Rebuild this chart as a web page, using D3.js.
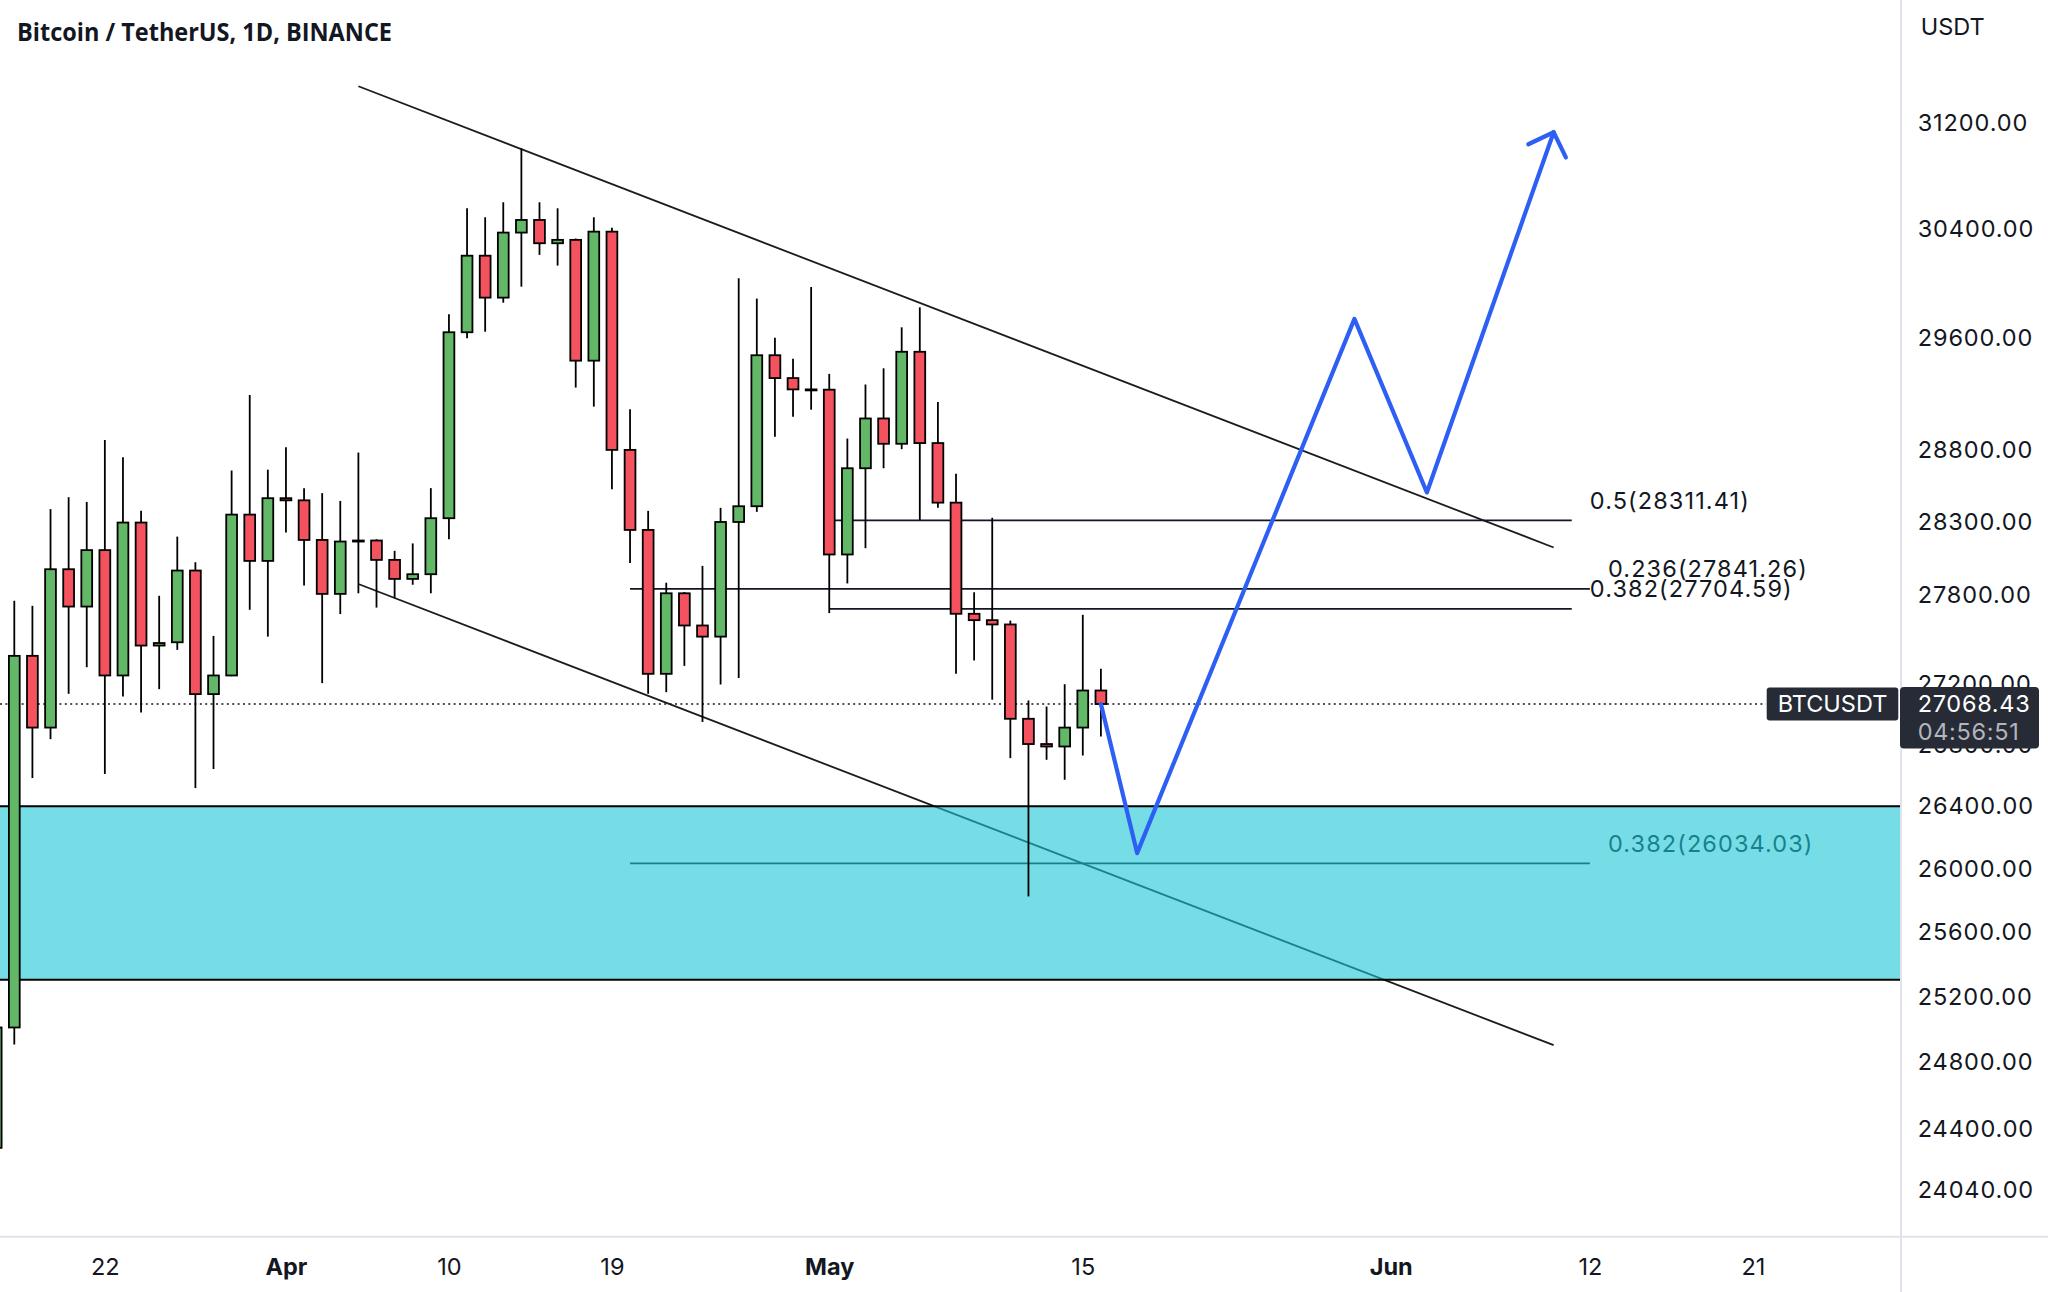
<!DOCTYPE html>
<html><head><meta charset="utf-8">
<script src="https://cdn.jsdelivr.net/npm/d3@7"></script>
<style>html,body{margin:0;padding:0;background:#fff;} svg{display:block;}</style>
</head><body><svg id="c" width="2048" height="1292"></svg>
<script>
// ---------------- DATA ----------------
const dates = ["2023-03-16","2023-03-17","2023-03-18","2023-03-19","2023-03-20","2023-03-21","2023-03-22","2023-03-23","2023-03-24","2023-03-25","2023-03-26","2023-03-27","2023-03-28","2023-03-29","2023-03-30","2023-03-31","2023-04-01","2023-04-02","2023-04-03","2023-04-04","2023-04-05","2023-04-06","2023-04-07","2023-04-08","2023-04-09","2023-04-10","2023-04-11","2023-04-12","2023-04-13","2023-04-14","2023-04-15","2023-04-16","2023-04-17","2023-04-18","2023-04-19","2023-04-20","2023-04-21","2023-04-22","2023-04-23","2023-04-24","2023-04-25","2023-04-26","2023-04-27","2023-04-28","2023-04-29","2023-04-30","2023-05-01","2023-05-02","2023-05-03","2023-05-04","2023-05-05","2023-05-06","2023-05-07","2023-05-08","2023-05-09","2023-05-10","2023-05-11","2023-05-12","2023-05-13","2023-05-14","2023-05-15","2023-05-16"];
const opens  = [24286,25011,27389,26913,27975,27721,28106,27258,28296,27458,27480,27966,27134,27258,28351,28032,28465,28450,28176,27807,28165,28172,28039,27909,27941,28326,29643,30203,29895,30374,30468,30295,30320,29438,30381,28803,28245,27269,27811,27593,27518,28300,28409,29477,29313,29232,29230,28076,28674,29025,28846,29502,28851,28434,27672,27629,27600,26971,26805,26789,26913,27158];
const highs  = [25200,27760,27726,28389,28472,28439,28873,28751,28377,27794,28199,28023,27523,28658,29192,28664,28822,28535,28500,28446,28784,28181,28101,28152,28535,29774,30555,30488,30600,31006,30600,30555,30330,30488,30410,29091,28377,27883,27820,27998,28398,30037,29888,29603,29451,29973,29343,28883,29267,29383,29679,29824,29142,28635,27818,28329,27626,27092,27052,27200,27665,27302];
const lows   = [24120,24907,26583,26837,27136,27313,26609,27118,27012,27167,27429,26518,26642,27253,27699,27518,28227,27864,27207,27670,27811,27714,27778,27869,27811,28181,29600,29647,29858,29975,30209,30130,29245,29109,28528,28017,27136,27147,27322,26950,27198,27241,28370,28896,29038,29087,27677,27878,28119,28674,28808,28312,28398,27269,27358,27097,26713,25825,26702,26572,26730,26855];
const closes = [25011,27389,26913,27975,27721,28106,27258,28296,27458,27475,27966,27134,27258,28351,28032,28465,28450,28176,27807,28165,28172,28039,27909,27941,28326,29643,30203,29895,30374,30468,30295,30320,29438,30381,28803,28245,27269,27811,27593,27518,28300,28409,29477,29313,29232,29230,28076,28674,29025,28846,29502,28851,28434,27672,27629,27600,26971,26805,26789,26913,27158,27068.43];

const priceTicks = [31200,30400,29600,28800,28300,27800,27200,26800,26400,26000,25600,25200,24800,24400,24040];
const timeTickDates  = ["2023-03-22","2023-04-01","2023-04-10","2023-04-19","2023-05-01","2023-05-15","2023-06-01","2023-06-12","2023-06-21"];
const timeTickLabels = ["22","Apr","10","19","May","15","Jun","12","21"];
const timeTickBold   = [false,true,false,false,true,false,true,false,false];

const title = "Bitcoin / TetherUS, 1D, BINANCE";
const currency = "USDT";
const symbol = "BTCUSDT";
const lastPrice = 27068.43;
const countdown = "04:56:51";

// trend channel
const upperTrendDates = ["2023-04-05","2023-06-10"];
const upperTrendPrices = [31480,28124];
const lowerTrendDates = ["2023-04-05","2023-06-10"];
const lowerTrendPrices = [27874,24903];

// fibonacci levels
const fibStartDates = ["2023-04-20","2023-04-20","2023-05-01","2023-05-01"];
const fibEndDates   = ["2023-06-12","2023-06-12","2023-06-11","2023-06-11"];
const fibPrices     = [27841.26,26034.03,28311.41,27704.59];
const fibLabels     = ["0.236(27841.26)","0.382(26034.03)","0.5(28311.41)","0.382(27704.59)"];

// demand zone
const zonePrices = [26400,25305];
const zoneDates = ["2023-03-01","2023-07-30"];

// forecast path
const forecastDates  = ["2023-05-16","2023-05-18","2023-05-30","2023-06-03","2023-06-10"];
const forecastPrices = [27068.43,26100,29740,28505,31128];

// ---------------- CHART ----------------
const W = 2048, H = 1292;
const plotRight = 1901, plotBottom = 1236.7;
const green = "#62b866", red = "#f4525f", ink = "#131722";
const font = "Inter, 'Liberation Sans', Arial, sans-serif";
const fs = 23.5;

const parse = s => new Date(s);
const x = d3.scaleUtc().domain([parse("2023-03-17"), parse("2023-06-21")]).range([14.3, 14.3 + 96*18.11]);
const y = d3.scaleLog().domain([24040, 31200]).range([1189.5, 122.8]);

const svg = d3.select("#c");
svg.append("rect").attr("width",W).attr("height",H).attr("fill","#fff");

svg.append("defs").append("clipPath").attr("id","plotclip")
  .append("rect").attr("x",0).attr("y",0).attr("width",plotRight).attr("height",plotBottom);

const plot = svg.append("g").attr("clip-path","url(#plotclip)");

// trend lines
[[upperTrendDates,upperTrendPrices],[lowerTrendDates,lowerTrendPrices]].forEach(([ds,ps])=>{
  plot.append("line")
    .attr("x1",x(parse(ds[0]))).attr("y1",y(ps[0]))
    .attr("x2",x(parse(ds[1]))).attr("y2",y(ps[1]))
    .attr("stroke","#1c1c1c").attr("stroke-width",1.8);
});

// fib lines + labels
fibPrices.forEach((p,i)=>{
  const x1 = x(parse(fibStartDates[i])), x2 = x(parse(fibEndDates[i]));
  plot.append("line").attr("x1",x1).attr("x2",x2).attr("y1",y(p)).attr("y2",y(p))
    .attr("stroke",ink).attr("stroke-width",1.8);
  const lx = x(d3.utcDay.offset(parse(fibEndDates[i]),1));
  plot.append("text").attr("x",lx).attr("y",y(p)-20).attr("dy","0.36em")
    .attr("font-family",font).attr("font-size",fs).attr("letter-spacing",1.1)
    .attr("fill",ink).text(fibLabels[i]);
});

// demand zone
const zx1 = x(parse(zoneDates[0])), zx2 = x(parse(zoneDates[1]));
plot.append("rect").attr("x",zx1).attr("width",zx2-zx1)
  .attr("y",y(zonePrices[0])).attr("height",y(zonePrices[1])-y(zonePrices[0]))
  .attr("fill","rgb(27,198,213)").attr("fill-opacity",0.6);
zonePrices.forEach(p=>{
  plot.append("line").attr("x1",zx1).attr("x2",zx2).attr("y1",y(p)).attr("y2",y(p))
    .attr("stroke","#000").attr("stroke-width",2);
});

// last price dotted line
plot.append("line").attr("x1",0).attr("x2",1766).attr("y1",y(lastPrice)).attr("y2",y(lastPrice))
  .attr("stroke",ink).attr("stroke-width",1.6).attr("stroke-dasharray","2,3.4");

// candles
const candles = dates.map((d,i)=>({t:parse(d),o:opens[i],h:highs[i],l:lows[i],c:closes[i]}));
const bw = 10.8;
const cg = plot.append("g").selectAll("g").data(candles).join("g");
cg.append("line")
  .attr("x1",d=>x(d.t)).attr("x2",d=>x(d.t))
  .attr("y1",d=>y(d.h)).attr("y2",d=>y(d.l))
  .attr("stroke","#000").attr("stroke-width",1.8);
cg.append("rect")
  .attr("x",d=>x(d.t)-bw/2).attr("width",bw)
  .attr("y",d=>Math.min(y(d.o),y(d.c)))
  .attr("height",d=>Math.max(1,Math.abs(y(d.o)-y(d.c))))
  .attr("fill",d=>d.c>=d.o?green:red)
  .attr("stroke","#000").attr("stroke-width",1.8);

// forecast path with arrow
const fpts = forecastDates.map((d,i)=>[x(parse(d)), y(forecastPrices[i])]);
plot.append("path").attr("d",d3.line()(fpts))
  .attr("fill","none").attr("stroke","#2d5ff5").attr("stroke-width",4.2)
  .attr("stroke-linejoin","round").attr("stroke-linecap","round");
{
  const [ax,ay] = fpts[fpts.length-1], [bx,by] = fpts[fpts.length-2];
  const ang = Math.atan2(by-ay, bx-ax);
  const L = 28;
  const wing = a => [ax + L*Math.cos(ang+a), ay + L*Math.sin(ang+a)];
  plot.append("path").attr("d",d3.line()([wing(0.79),[ax,ay],wing(-0.79)]))
    .attr("fill","none").attr("stroke","#2d5ff5").attr("stroke-width",4.2)
    .attr("stroke-linejoin","round").attr("stroke-linecap","round");
}

// axes frame lines
svg.append("line").attr("x1",0).attr("x2",W).attr("y1",plotBottom).attr("y2",plotBottom)
  .attr("stroke","#e0e3eb").attr("stroke-width",2);
svg.append("line").attr("x1",plotRight).attr("x2",plotRight).attr("y1",0).attr("y2",H)
  .attr("stroke","#e0e3eb").attr("stroke-width",2);

// right price axis
const yAxis = d3.axisRight(y).tickValues(priceTicks).tickFormat(d=>d.toFixed(2)).tickSize(0).tickPadding(16.7);
const ya = svg.append("g").attr("transform",`translate(${plotRight},0)`).call(yAxis);
ya.select(".domain").remove();
ya.selectAll("text").attr("font-family",font).attr("font-size",fs).attr("letter-spacing",0.9).attr("fill",ink);

// bottom time axis
const xAxis = d3.axisBottom(x).tickValues(timeTickDates.map(parse))
  .tickFormat((d,i)=>timeTickLabels[i]).tickSize(0).tickPadding(21.8);
const xa = svg.append("g").attr("transform",`translate(0,${plotBottom})`).call(xAxis);
xa.select(".domain").remove();
xa.selectAll("text").attr("font-family",font).attr("font-size",fs).attr("fill",ink)
  .attr("font-weight",(d,i)=>timeTickBold[i]?700:400);

// title
svg.append("text").attr("x",17).attr("y",41).attr("font-family","'Open Sans', Arial, sans-serif")
  .attr("font-weight",700).attr("font-size",25).attr("fill",ink)
  .attr("textLength",375).attr("lengthAdjust","spacingAndGlyphs").text(title);

// currency
svg.append("text").attr("x",1920.7).attr("y",27).attr("dy","0.36em").attr("font-family",font)
  .attr("font-size",fs).attr("fill",ink).text(currency);

// symbol label & price box
const py = y(lastPrice);
svg.append("rect").attr("x",1766.7).attr("y",py-16.5).attr("width",131.6).attr("height",33)
  .attr("rx",3).attr("fill","#262b36");
svg.append("text").attr("x",1777.7).attr("y",py).attr("dy","0.36em").attr("font-family",font)
  .attr("font-size",fs).attr("fill","#fff").text(symbol);
svg.append("rect").attr("x",1900).attr("y",py-17).attr("width",139).attr("height",61.5)
  .attr("rx",4).attr("fill","#262b36");
svg.append("text").attr("x",1917.7).attr("y",py-0.7).attr("dy","0.36em").attr("font-family",font)
  .attr("font-size",fs).attr("letter-spacing",0.7).attr("fill","#fff").text(lastPrice.toFixed(2));
svg.append("text").attr("x",1917.7).attr("y",py+28).attr("dy","0.36em").attr("font-family",font)
  .attr("font-size",fs).attr("letter-spacing",0.7).attr("fill","#b2b5be").text(countdown);
</script>
</body></html>
